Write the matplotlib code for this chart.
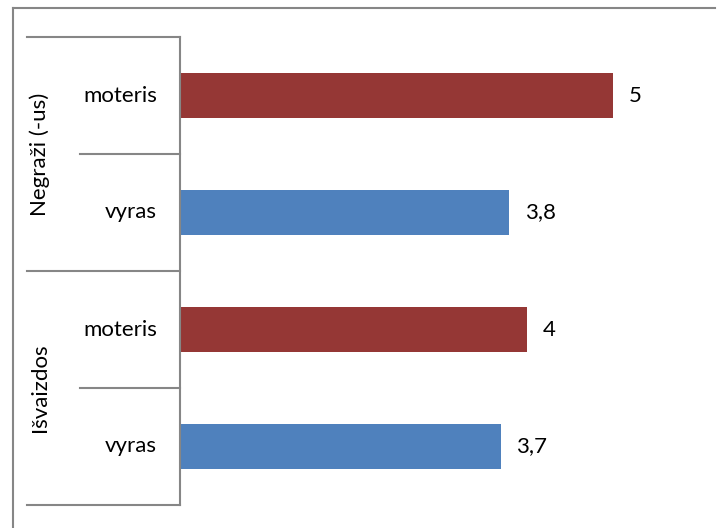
import matplotlib.pyplot as plt
from matplotlib.lines import Line2D
import matplotlib.transforms as mtransforms

plt.rcParams['font.family'] = ['Lato', 'DejaVu Sans']

# data (top to bottom)
groups = ['Negraži (-us)', 'Išvaizdos']
labels = ['moteris', 'vyras', 'moteris', 'vyras']
values = [5, 3.8, 4, 3.7]
value_text = ['5', '3,8', '4', '3,7']
colors = ['#953735', '#4F81BD', '#953735', '#4F81BD']

W, H = 722, 528
fig = plt.figure(figsize=(W / 100, H / 100), dpi=100)

# outer frame (only top and left visible, image is cropped)
fig.add_artist(Line2D([13 / W, 715 / W], [1 - 8 / H, 1 - 8 / H], color='#868686', lw=1.5))
fig.add_artist(Line2D([13 / W, 13 / W], [1 - 8 / H, 0], color='#868686', lw=1.5))

left, right, top, bottom = 180, 700, 37, 505
ax = fig.add_axes([left / W, 1 - bottom / H, (right - left) / W, (bottom - top) / H])

n = len(values)
ypos = list(range(n))
ax.barh(ypos, values, height=1 / 2.6, color=colors)
ax.set_xlim(0, 6)
ax.set_ylim(n - 0.5, -0.5)

for y, v, t in zip(ypos, values, value_text):
    ax.text(v + 0.18, y, t, va='center', ha='left', fontsize=16)

ax.set_xticks([])
ax.set_yticks([])
for s in ['top', 'right', 'bottom']:
    ax.spines[s].set_visible(False)
ax.spines['left'].set_color('#868686')
ax.spines['left'].set_linewidth(1.5)

trans = mtransforms.blended_transform_factory(ax.transAxes, ax.transData)
px = 1 / (right - left)

# category separators
for i in range(n + 1):
    y = i - 0.5
    x0 = (27 - left) * px if i % 2 == 0 else (80 - left) * px
    ax.add_line(Line2D([x0, 0], [y, y], transform=trans, color='#868686', lw=1.5, clip_on=False))

# inner labels
for y, lab in zip(ypos, labels):
    ax.text((157 - left) * px, y, lab, transform=trans, ha='right', va='center', fontsize=16)

# group labels
for g, name in enumerate(groups):
    ax.text((40 - left) * px, 2 * g + 0.5, name, transform=trans, rotation=90,
            ha='center', va='center', fontsize=16)

fig.savefig('out.png', dpi=100)
